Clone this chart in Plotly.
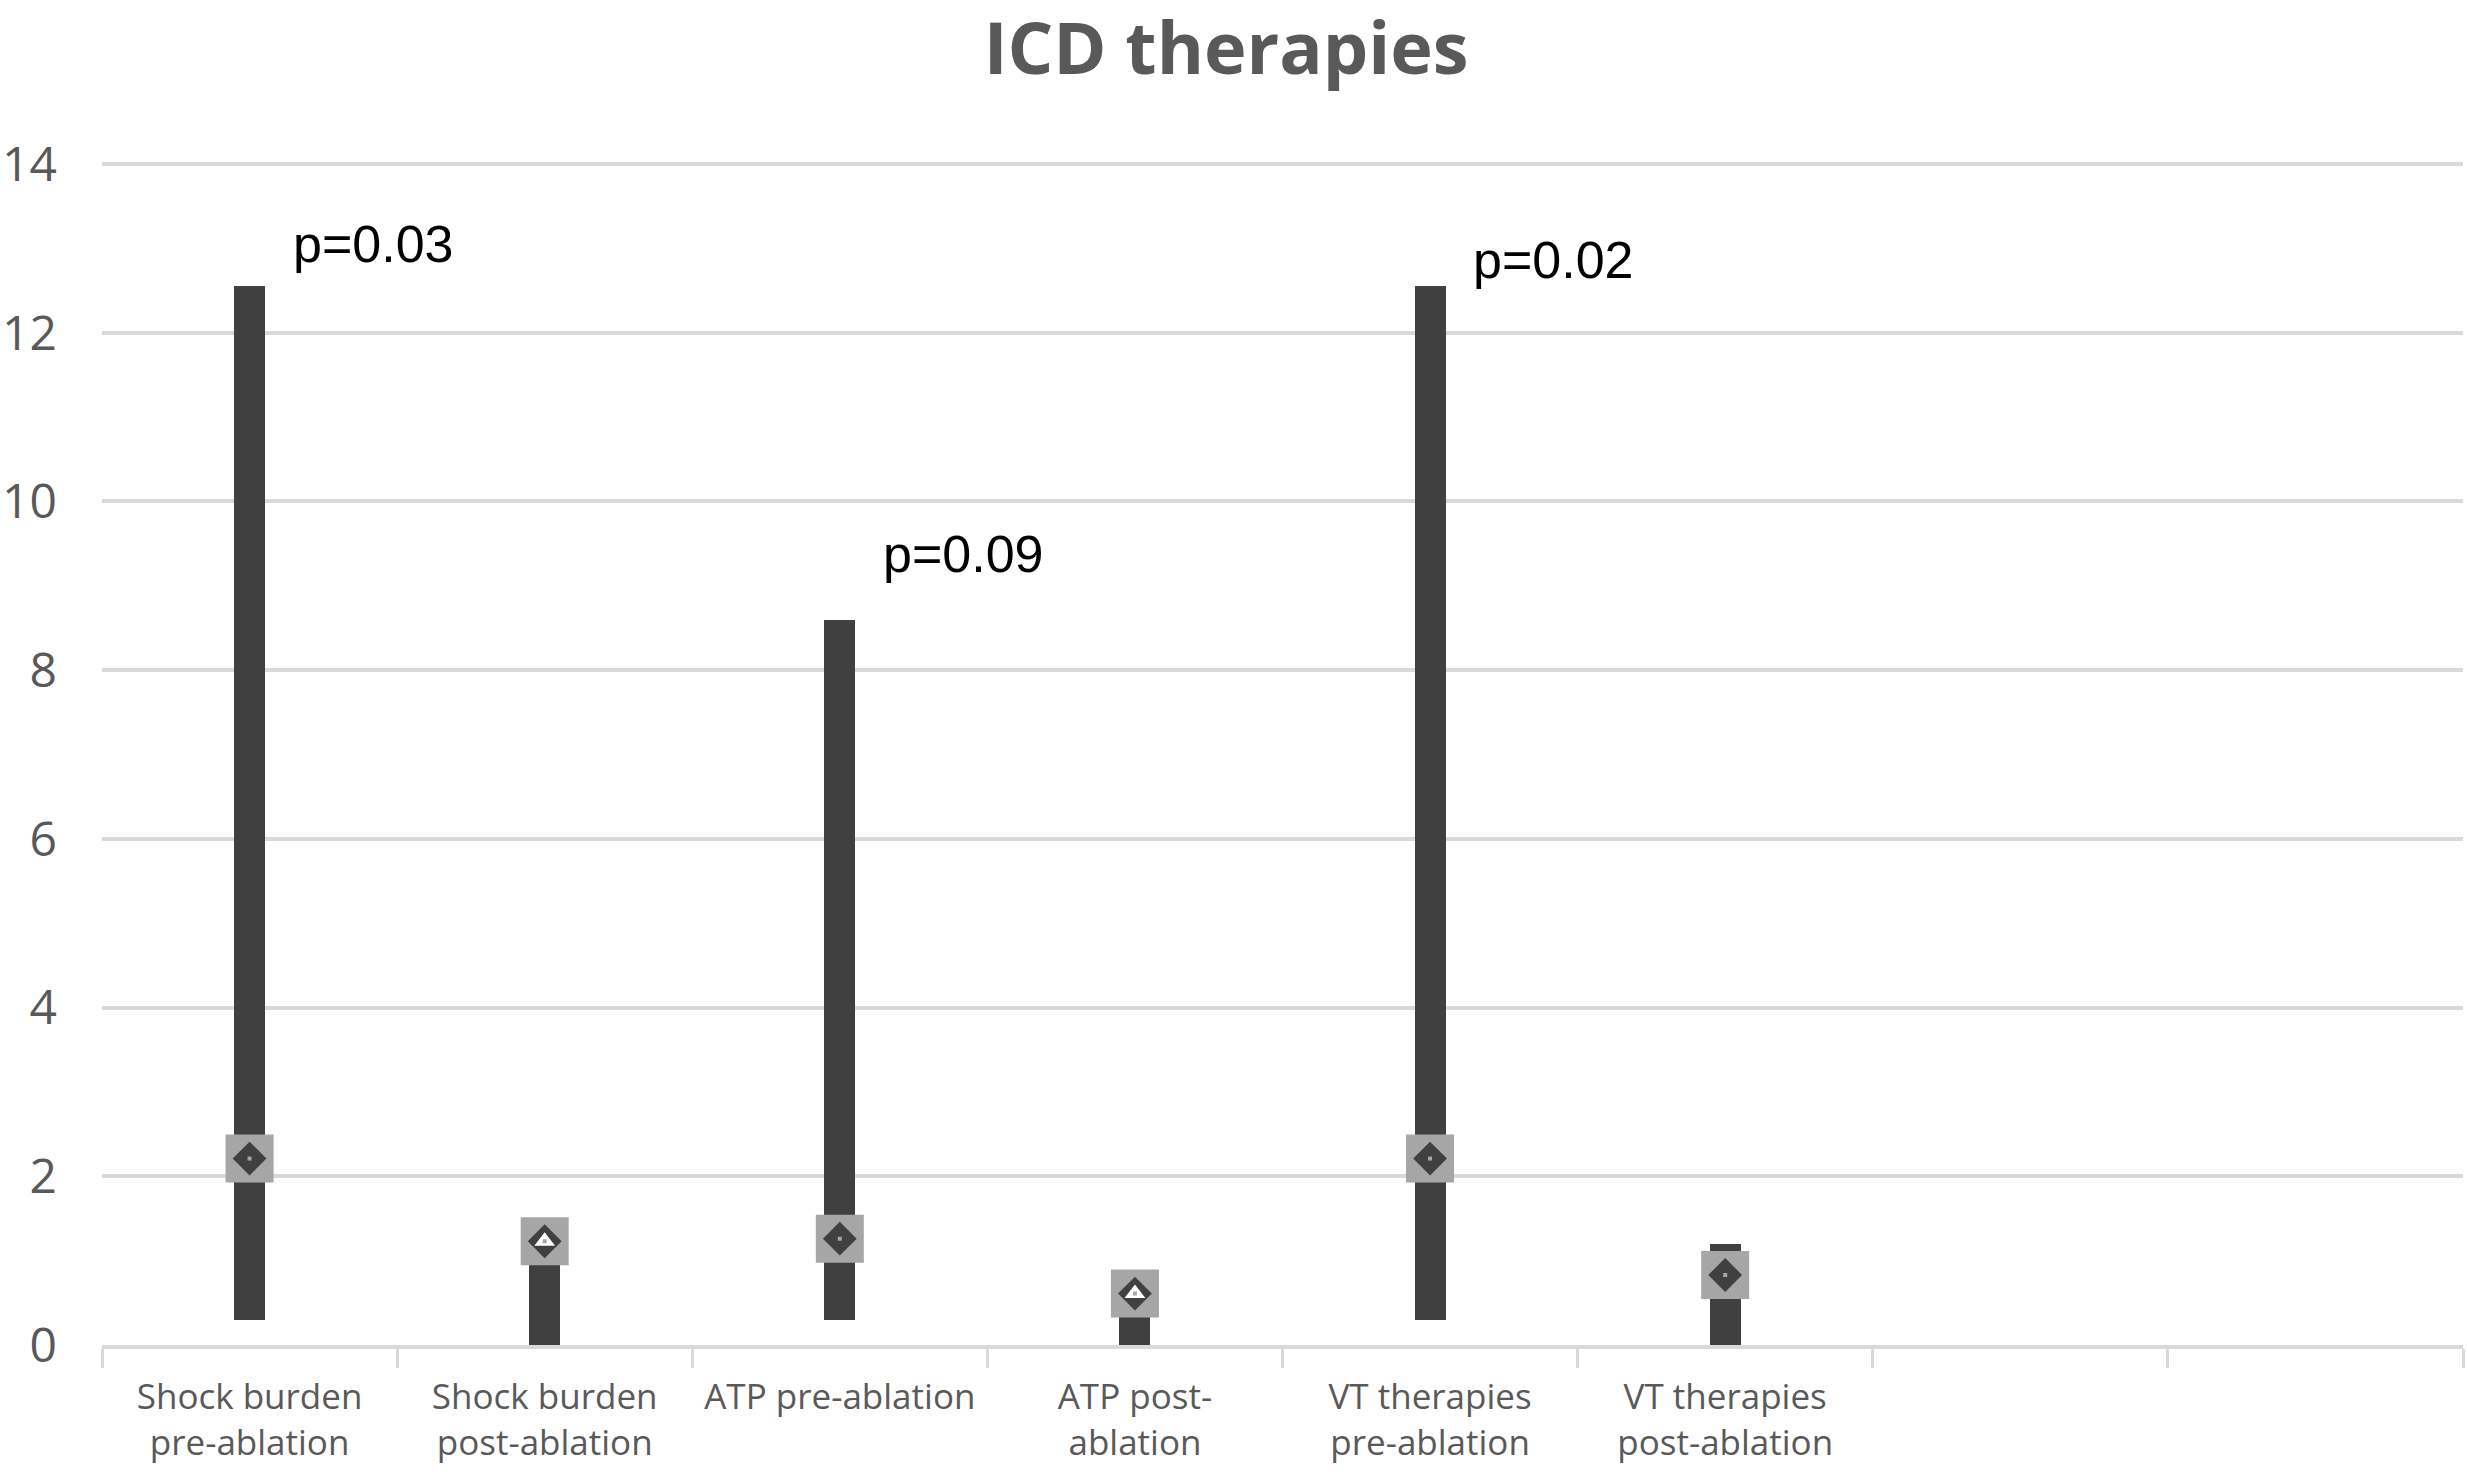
import plotly.graph_objects as go

# ICD therapy counts: range (low-high) with centre marker
categories = [
    "Shock burden<br>pre-ablation",
    "Shock burden<br>post-ablation",
    "ATP pre-ablation",
    "ATP post-<br>ablation",
    "VT therapies<br>pre-ablation",
    "VT therapies<br>post-ablation",
    "",
    "",
]
low_vals = [0.3, 0.0, 0.3, 0.0, 0.3, 0.0]
high_vals = [12.55, 1.2, 8.6, 0.6, 12.55, 1.2]
mid_vals = [2.21, 1.23, 1.26, 0.61, 2.21, 0.83]
post_ablation = [False, True, False, True, False, False]

p_labels = ["p=0.03", "p=0.09", "p=0.02"]
p_index = [0, 2, 4]
p_y = [13.05, 9.38, 12.86]

W, H = 2467, 1477
DARK = "#404040"
GRID = "#d9d9d9"
TXT = "#595959"

x_pos = list(range(len(low_vals)))

fig = go.Figure()

# the high-low bars
fig.add_trace(go.Bar(
    x=x_pos, y=[h - l for h, l in zip(high_vals, low_vals)], base=low_vals,
    width=0.105, marker=dict(color=DARK, line=dict(width=0)),
    hoverinfo="skip", showlegend=False))

# grey square + dark diamond markers
fig.add_trace(go.Scatter(
    x=x_pos, y=mid_vals, mode="markers",
    marker=dict(symbol="square", size=48, color="#a6a6a6", line=dict(width=0)),
    showlegend=False))
fig.add_trace(go.Scatter(
    x=x_pos, y=mid_vals, mode="markers",
    marker=dict(symbol="diamond", size=26, color=DARK, line=dict(width=0)),
    showlegend=False))
post_x = [x for x, p in zip(x_pos, post_ablation) if p]
post_y = [y for y, p in zip(mid_vals, post_ablation) if p]
fig.add_trace(go.Scatter(
    x=post_x, y=post_y, mode="markers",
    marker=dict(symbol="triangle-up", size=18, color="white", line=dict(width=0)),
    showlegend=False))
fig.add_trace(go.Scatter(
    x=x_pos, y=mid_vals, mode="markers",
    marker=dict(symbol="square", size=4, color="#a6a6a6", line=dict(width=0)),
    showlegend=False))

for txt, i, y in zip(p_labels, p_index, p_y):
    fig.add_annotation(x=i + 0.14, y=y, text=txt, showarrow=False,
                       xanchor="left", yanchor="middle",
                       font=dict(family="Liberation Sans, Arial", size=52, color="black"))

fig.update_layout(
    width=W, height=H,
    paper_bgcolor="white", plot_bgcolor="white",
    margin=dict(l=102, r=4, t=132, b=132),
    title=dict(text="<b>ICD therapies</b>", x=0.497, xanchor="center",
               y=1 - 49 / H, yanchor="middle",
               font=dict(family="Open Sans", size=72, color=TXT)),
    bargap=0,
)
fig.update_xaxes(
    range=[-0.5, 7.5], tickvals=list(range(len(categories))), ticktext=categories,
    showgrid=False, zeroline=False, showline=True, linecolor=GRID, linewidth=4,
    ticks="", tickangle=0, ticklabelstandoff=18, automargin=False,
    tickfont=dict(family="Open Sans", size=35, color=TXT),
    minor=dict(tickvals=[i - 0.5 for i in range(9)], ticks="outside",
               ticklen=19, tickwidth=3, tickcolor=GRID, showgrid=False),
)
fig.update_yaxes(
    range=[0, 14.38], tickvals=[0, 2, 4, 6, 8, 10, 12, 14],
    showgrid=True, gridcolor=GRID, gridwidth=4, zeroline=False, showline=False,
    ticks="", ticklabelstandoff=44, automargin=False,
    tickfont=dict(family="Open Sans", size=48, color=TXT),
)

# drop the default page margin so the figure sits at the window's corner
fig.write_html("out.html", config={"displayModeBar": False},
               post_script="document.body.style.margin='0';")
